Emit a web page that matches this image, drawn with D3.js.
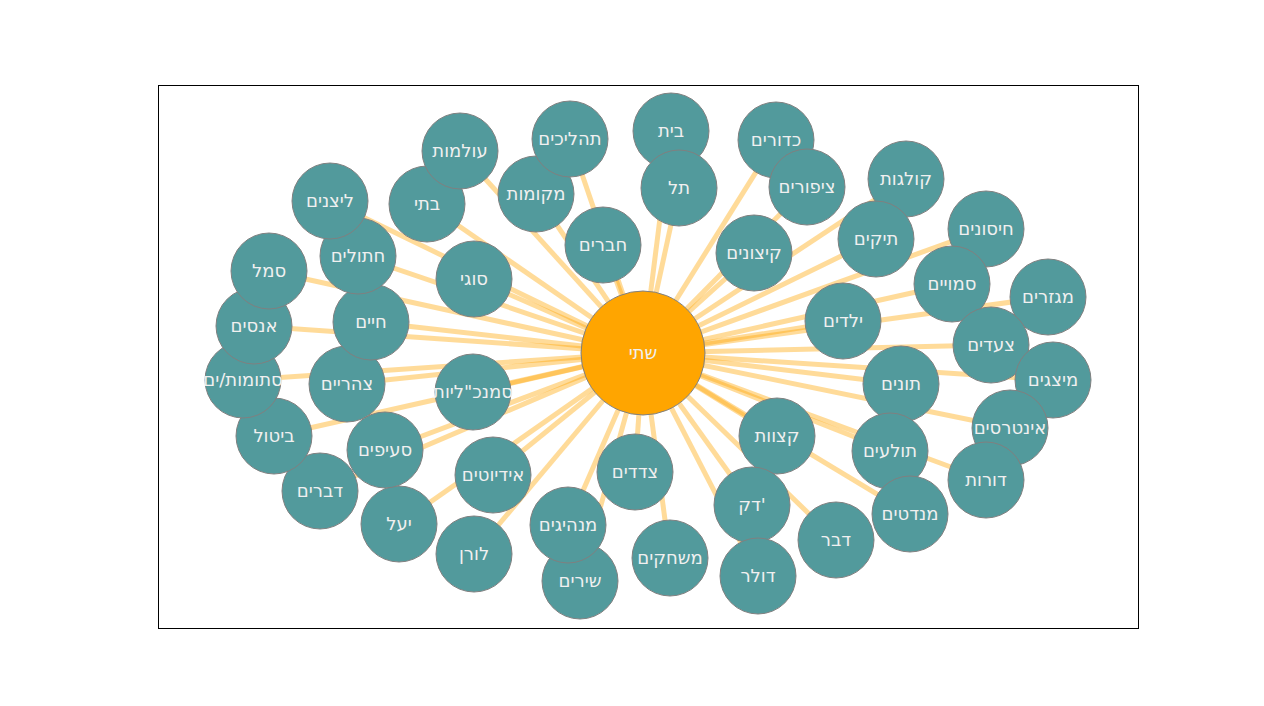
<!DOCTYPE html>
<html><head><meta charset="utf-8">
<script src="https://cdn.jsdelivr.net/npm/d3@7"></script>
<style>body{margin:0;background:#fff}</style>
</head><body>
<script>
const hubLabel = "שתי";
const hubPos = [485, 268];
const nodeLabels = ["בית","תל","כדורים","ציפורים","קולגות","תיקים","קיצונים","חיסונים","סמויים","מגזרים","ילדים","צעדים","מיצגים","תונים","אינטרסים","קצוות","תולעים","דורות","מנדטים","דק'","דבר","דולר","משחקים","צדדים","שירים","מנהיגים","לורן","אידיוטים","יעל","דברים","סעיפים","ביטול","סמנכ\"ליות","צהריים","סתומות/ים","אנסים","חיים","סמל","חתולים","סוגי","ליצנים","בתי","עולמות","מקומות","תהליכים","חברים"];
const nodeX = [513,521,618,649,748,718,596,828,794,890,685,833,895,743,852,619,732,828,752,594,678,600,512,477,422,410,316,335,241,162,227,116,315,189,85,96,213,111,200,316,172,269,302,378,412,445];
const nodeY = [46,103,55,102,94,154,168,144,199,212,236,260,295,299,343,351,366,395,429,420,455,491,473,387,496,440,469,390,439,406,365,351,307,299,295,241,237,186,171,194,116,119,66,109,54,160];

(function(){
  const W = 1264, H = 706;
  const frame = {left: 158, top: 85, width: 980, height: 543};
  const svg = d3.select("body").append("svg").attr("width", W).attr("height", H);
  const x = d3.scaleLinear().domain([0, 980]).range([frame.left, frame.left + frame.width]);
  const y = d3.scaleLinear().domain([0, 543]).range([frame.top, frame.top + frame.height]);

  svg.append("rect")
    .attr("x", frame.left + 0.5).attr("y", frame.top + 0.5)
    .attr("width", frame.width).attr("height", frame.height)
    .attr("fill", "none").attr("stroke", "#000");

  const nodes = nodeLabels.map((l, i) => ({label: l, x: nodeX[i], y: nodeY[i]}));

  svg.append("g").selectAll("line").data(nodes).enter().append("line")
    .attr("x1", x(hubPos[0])).attr("y1", y(hubPos[1]))
    .attr("x2", d => x(d.x)).attr("y2", d => y(d.y))
    .attr("stroke", "#ffa500").attr("stroke-opacity", 0.4).attr("stroke-width", 5);

  const g = svg.append("g").selectAll("g").data(nodes).enter().append("g")
    .attr("transform", d => `translate(${x(d.x)},${y(d.y)})`);
  g.append("circle").attr("r", 38).attr("fill", "#529a9c").attr("stroke", "#808080").attr("stroke-width", 1);
  g.append("text").text(d => d.label)
    .attr("text-anchor", "middle").attr("dy", "0.35em")
    .attr("font-family", "DejaVu Sans").attr("font-size", 18).attr("fill", "#f0f0f0");

  const hub = svg.append("g").attr("transform", `translate(${x(hubPos[0])},${y(hubPos[1])})`);
  hub.append("circle").attr("r", 62).attr("fill", "#ffa500").attr("stroke", "#808080");
  hub.append("text").text(hubLabel).attr("text-anchor", "middle").attr("dy", "0.35em")
    .attr("font-family", "DejaVu Sans").attr("font-size", 18).attr("fill", "#f0f0f0");
})();
</script>
</body></html>
